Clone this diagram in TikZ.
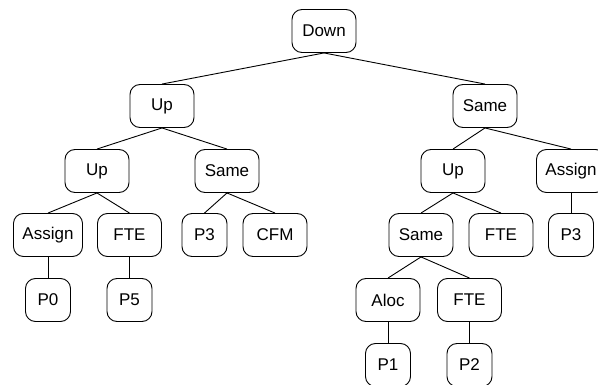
\documentclass[tikz,border=0pt]{standalone}
\usepackage{fontspec}
\setmainfont{Liberation Sans}
\usepackage{tikz}
\tikzset{
  tnode/.style={draw, fill=white, rounded corners=10pt, align=center, minimum width=64pt, minimum height=43pt, inner xsep=9pt, line width=0.9pt, font=\fontsize{17}{20}\selectfont},
  pnode/.style={tnode, minimum width=45pt},
  link/.style={line width=0.9pt}
}

\begin{document}
\begin{tikzpicture}[x=1pt, y=-1pt]
  \path[use as bounding box, clip] (0,0) rectangle (598,385);

  \node[tnode] (down) at (324,31) {Down};

  \node[tnode] (upA) at (162,106) {Up};
  \node[tnode] (sameA) at (485,106) {Same};

  \node[tnode] (upB) at (97,171) {Up};
  \node[tnode] (sameB) at (227,171) {Same};
  \node[tnode] (upC) at (453,171) {Up};
  \node[tnode] (assignC) at (571,171) {Assign};

  \node[tnode] (assignD) at (48,235) {Assign};
  \node[tnode] (fteD) at (129.5,235) {FTE};
  \node[pnode] (p3D) at (204.5,235) {P3};
  \node[tnode] (cfmD) at (275,235) {CFM};
  \node[tnode] (sameE) at (421,235) {Same};
  \node[tnode] (fteE) at (501,235) {FTE};
  \node[pnode] (p3E) at (571,235) {P3};

  \node[pnode] (p0) at (48,300) {P0};
  \node[pnode] (p5) at (129.5,300) {P5};
  \node[tnode] (aloc) at (388,300) {Aloc};
  \node[tnode] (fteF) at (469.5,300) {FTE};

  \node[pnode] (p1) at (388,365) {P1};
  \node[pnode] (p2) at (469.5,365) {P2};

  \draw[link] (down.south) -- (upA.north);
  \draw[link] (down.south) -- (sameA.north);
  \draw[link] (upA.south) -- (upB.north);
  \draw[link] (upA.south) -- (sameB.north);
  \draw[link] (sameA.south) -- (upC.north);
  \draw[link] (sameA.south) -- (assignC.north);
  \draw[link] (upB.south) -- (assignD.north);
  \draw[link] (upB.south) -- (fteD.north);
  \draw[link] (sameB.south) -- (p3D.north);
  \draw[link] (sameB.south) -- (cfmD.north);
  \draw[link] (upC.south) -- (sameE.north);
  \draw[link] (upC.south) -- (fteE.north);
  \draw[link] (assignC.south) -- (p3E.north);
  \draw[link] (assignD.south) -- (p0.north);
  \draw[link] (fteD.south) -- (p5.north);
  \draw[link] (sameE.south) -- (aloc.north);
  \draw[link] (sameE.south) -- (fteF.north);
  \draw[link] (aloc.south) -- (p1.north);
  \draw[link] (fteF.south) -- (p2.north);
\end{tikzpicture}
\end{document}
